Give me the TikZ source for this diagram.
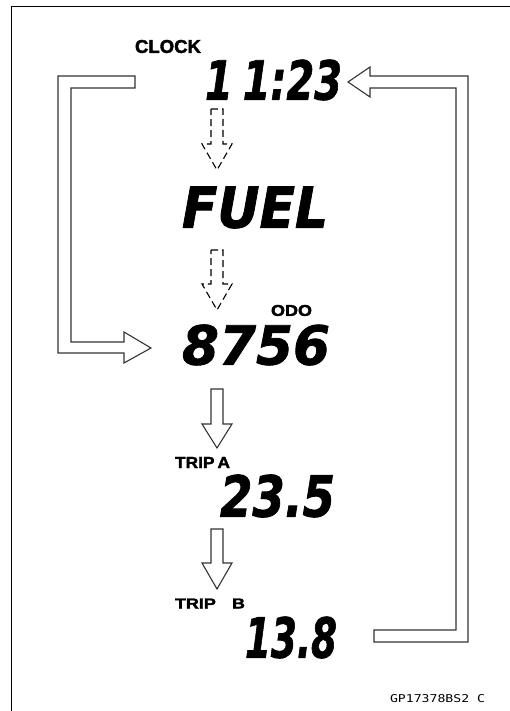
\documentclass[tikz,border=0pt]{standalone}
\usepackage{fontspec}
\setmainfont{Liberation Sans}
\newfontfamily\lcdfont{DejaVu Sans}[BoldItalicFeatures={FakeBold=1.5}]
\newfontfamily\labfont{Liberation Sans}[BoldFeatures={FakeBold=2}]
\newfontfamily\codefont{DejaVu Sans Mono}
\begin{document}
\begin{tikzpicture}[x=1pt,y=-1pt,
  lcd/.style={inner sep=0pt, font=\lcdfont\bfseries\itshape},
  tag/.style={inner sep=0pt, font=\labfont\bfseries},
  hollow/.style={draw=black!80, line width=1.1pt, fill=white, line join=miter},
  dasharrow/.style={draw=black, line width=1.1pt, dash pattern=on 7pt off 4pt}]
\useasboundingbox (0,0) rectangle (510,711);
% frame
\draw[line width=1.5pt] (510,6.5) -- (11.5,6.5) -- (11.5,711);
% labels
\node[tag] (clocklbl) at (168,46.5) {\resizebox{66pt}{13pt}{CLOCK}};
\node[tag] (odolbl) at (291.5,310.5) {\resizebox{41pt}{11pt}{ODO}};
\node[tag] (tripalbl) at (202.5,462.5) {\resizebox{55pt}{11pt}{TRIP\,A}};
\node[tag] (tripblbl) at (210,603.5) {\resizebox{70pt}{10pt}{TRIP\hspace{0.9em}B}};
% displays
\node[lcd] (clockv) at (273.5,80) {\resizebox{137pt}{40pt}{1\hspace{0.25em}1:23}};
\node[lcd] (fuel) at (255,207.5) {\resizebox{146pt}{41pt}{FUEL}};
\node[lcd] (odo) at (256,345) {\resizebox{148pt}{40pt}{8756}};
\node[lcd] (tripa) at (277.5,496) {\resizebox{115pt}{42pt}{23.5}};
\node[lcd] (tripb) at (291,637.5) {\resizebox{92pt}{41pt}{13.8}};
% code
\node[inner sep=0pt, font=\codefont] (code) at (437.5,699) {\resizebox{95pt}{8pt}{GP17378BS2\hspace{0.6em}C}};
% left L arrow: clock -> odo
\draw[hollow] (135,76) -- (58,76) -- (58,353) -- (124,353) -- (124,363) -- (151,348)
  -- (124,332) -- (124,342) -- (71,342) -- (71,88) -- (135,88) -- cycle;
% right bracket arrow: trip b -> clock
\draw[hollow] (374,630) -- (456,630) -- (456,88) -- (370,88) -- (370,97) -- (348,82)
  -- (370,67) -- (370,76) -- (468,76) -- (468,642) -- (374,642) -- cycle;
% dashed arrows
\draw[dasharrow] (211,109) -- (223,109) -- (223,144) -- (232,144) -- (217,170)
  -- (202,144) -- (211,144) -- cycle;
\draw[dasharrow] (211,250) -- (223,250) -- (223,284) -- (232,284) -- (217,310)
  -- (202,284) -- (211,284) -- cycle;
% solid down arrows
\draw[hollow] (211,389) -- (223,389) -- (223,424) -- (232,424) -- (217,448)
  -- (202,424) -- (211,424) -- cycle;
\draw[hollow] (211,529) -- (223,529) -- (223,563) -- (232,563) -- (217,589)
  -- (202,563) -- (211,563) -- cycle;
\end{tikzpicture}
\end{document}
